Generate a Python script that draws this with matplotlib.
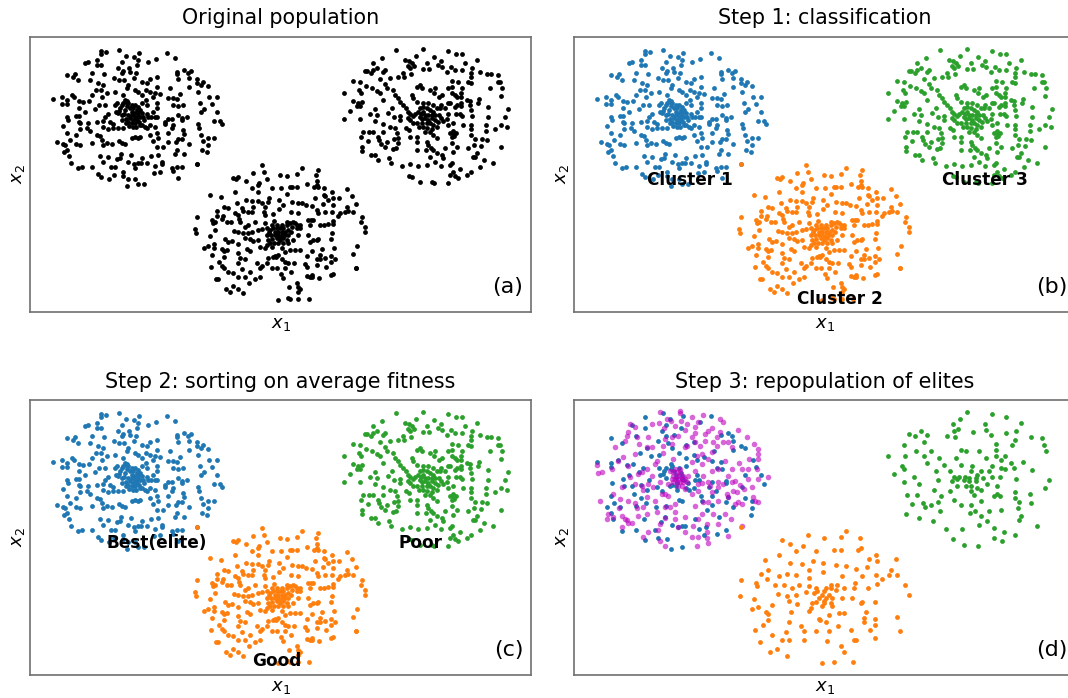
import numpy as np
import matplotlib
matplotlib.use("Agg")
import matplotlib.pyplot as plt

# points (crop pixels, 3x zoom)
blue_read = [(237,31),(183,33),(183,42),(198,36),(382,40),(405,54),(257,47),(281,52),(297,40),(295,60),(347,57),(324,65),(290,75),(288,98),(245,65),(170,60),(183,75),(172,75),(145,66),(136,68),(156,100),(192,102),(235,85),(250,92),(245,100),(268,85),(270,97),(105,102),(82,105),(100,112),(113,120),(150,120),(223,113),(238,120),(252,120),(282,115),(305,127),(322,130),(330,118),(352,112),(410,95),(410,102),(433,90),(453,92),(445,100),(415,117),(448,115),(472,118),(470,128),(490,125),(483,135),(503,138),(448,142),(473,155),(506,170),(530,170),(515,192),(480,188),(530,215),(492,208),(483,217),(523,243),(540,243),(546,253),(475,253),(476,265),(484,286),(522,293),(503,293),(490,302),(503,315),(485,330),(500,335),(470,373),
    (38,178),(65,170),(80,180),(65,192),(80,192),(97,165),(103,172),(118,183),(130,186),(116,203),(135,215),(108,227),(118,227),(80,232),(83,240),(118,245),(120,250),(68,257),(143,250),(142,265),(150,272),(120,267),(80,278),(108,284),(90,300),(50,307),(68,313),(75,316),(107,312),(120,316),(80,330),(73,335),(88,347),(93,368),(113,385),(126,380),(157,380),(175,402),(182,410),(208,417),(223,405),(248,397),(250,408),(265,417),(262,437),(285,417),(295,433),(312,432),
    (148,183),(157,165),(167,150),(175,130),(190,135),(183,150),(200,158),(185,170),(178,195),(195,195),(165,208),(205,222),(195,232),(188,243),(170,245),(210,245),(218,252),(205,268),(190,262),(218,265),(235,265),(248,265),(172,285),(180,288),(187,300),(190,315),(155,310),(200,310),(215,313),(238,303),(247,308),(255,313),(180,347),(205,352),(243,343),(190,367),(212,380),(225,382),(232,358),(240,355),(265,365),(272,345),(283,373),(285,385),(295,370),(305,355),(303,368),(322,368),(332,348),(353,345),(345,377),(366,365),(367,372),(342,400),(360,395),(395,385),(400,393),(412,380),(425,380),(413,415),
    (285,150),(295,155),(305,165),(318,150),(330,155),(345,158),(360,162),(352,140),(390,145),(420,162),(385,175),(400,175),(410,178),(318,180),(340,172),(350,190),(400,195),(430,195),(415,197),(350,205),(340,215),(325,232),(345,232),(375,245),(385,238),(395,238),(375,253),(400,255),(395,265),(415,225),(425,235),(440,232),(425,240),(320,265),(330,255),(345,262),(350,280),(330,285),(385,280),(430,270),(432,283),(415,297),(425,297),(408,307),(448,313),(340,302),(355,295),(352,322),(370,320),(410,330),(405,342),(433,342),(385,305),
    (255,180),(262,183),(250,188),(265,190),(232,190),(240,205),(275,195),(285,195),(295,200),(270,205),(280,205),(290,210),(300,210),(275,215),(285,220),(295,220),(235,220),(245,225),(265,225),(275,225),(285,230),(295,228),(270,235),(280,240),(290,240),(275,250),(285,250),(300,232),(310,230),(225,195),(258,185),(315,262),(300,255),(285,290),(275,295),(295,295),(300,290),(225,157),(250,165),(265,135),(262,145),(305,190),(320,195),
    (245,195),(255,210),(262,198),(252,222),(238,212),(258,238),(265,245),(305,218),(312,240),(322,222),(332,232),(298,245),(305,255),(268,258),(258,250),(288,262),(278,262),(245,240),(228,215),(352,232)]

green_read = [(265,28),(182,30),(340,33),(362,42),(380,42),(142,53),(243,47),(297,50),(427,60),(210,60),(222,62),(232,68),(238,78),(218,78),(225,85),(113,68),(125,85),(115,90),(90,93),(95,94),(107,100),(150,90),(145,97),(165,113),(135,117),(55,122),(75,125),(93,137),(110,145),(127,153),(135,158),(150,133),(155,145),(190,110),(205,100),(207,112),(228,102),(265,88),(283,88),(275,68),(318,62),(310,75),(320,80),(347,82),(335,97),(360,90),(380,90),(390,68),(412,85),(408,100),(408,112),(435,95),(455,102),(468,102),(490,105),(490,127),(495,125),(465,145),(502,145),(498,168),(400,125),(407,128),(352,122),(370,125),(352,140),(340,143),(245,140),(255,135),(260,143),(285,150),(300,145),(298,160),(320,165),(312,172),(350,160),(380,145),(378,158),(360,165),(365,172),(378,172),
    (27,160),(55,183),(68,190),(80,185),(75,198),(65,197),(45,212),(27,238),(75,238),(72,150),(78,160),(120,208),(105,222),(125,224),(120,243),(143,253),(85,275),(103,275),(115,275),(78,290),(100,303),(130,292),(133,300),(145,275),(165,262),(180,265),(185,280),(190,295),(178,297),(190,310),(182,325),(175,328),(137,312),(150,320),(155,305),(80,320),(82,332),(108,345),(120,345),(130,360),(162,355),(168,370),(200,377),(225,373),(248,377),(277,375),(300,365),(317,378),(222,408),(232,412),(254,425),(290,425),(297,430),(340,428),(345,405),(360,408),(370,415),(355,395),(375,388),(395,405),(407,395),(350,368),(345,375),(435,382),(473,370),(448,360),(425,340),(415,350),(420,352),(400,325),(418,315),(438,318),(420,298),(440,298),(456,300),(497,320),(408,268),(408,255),(408,285),(453,255),(453,272),(480,268),(497,255),(517,262),(510,230),(520,207),(458,202),(460,230),(433,178),(430,188),(395,180),(405,182),(405,195),(407,210),(410,228),(380,228),(362,222),(375,222),(340,190),(345,190),(365,195),(378,188),(378,198),(360,200),(340,222),(335,238),
    (145,180),(160,220),(170,203),(175,150),(180,165),(190,175),(195,185),(205,195),(212,205),(220,215),(225,222),(195,228),(178,232),(195,240),(218,235),(225,240),(235,248),(245,250),(212,265),(222,270),(225,292),(245,290),(245,305),(245,330),(230,165),(235,175),(245,185),(265,190),(280,190),(295,195),(305,205),(315,205),(240,222),
    (265,200),(275,205),(285,210),(295,215),(265,215),(270,225),(280,225),(290,225),(300,225),(270,235),(280,240),(290,235),(300,240),(275,250),(285,250),(295,255),(310,245),(325,243),(265,260),(275,265),(270,275),(285,275),(295,285),(305,295),(340,255),(355,250),(385,255),(345,280),(355,278),(362,280),(350,290),(355,272),(358,287),(275,305),(280,315),(288,325),(295,330),(305,340),(320,345),(330,325),(285,352),(325,355),(355,335),(365,320),(350,310),(272,330),
    (255,205),(258,222),(262,238),(255,232),(250,215),(312,225),(318,235),(305,262),(290,268),(262,250),(252,262),(235,228),(318,195),(330,205)]

orange_read = [(36,13),(232,16),(350,25),(398,30),(393,45),(203,40),(237,37),(145,55),(160,50),(152,57),(183,62),(247,58),(222,70),(219,75),(286,45),(306,47),(335,43),(395,62),(397,75),(365,73),(388,80),(400,80),(200,85),(220,97),(260,83),(287,83),(315,82),(320,80),(335,82),(418,85),(440,97),(417,105),(420,107),(485,88),(150,97),(75,105),(108,112),(305,103),(252,113),(250,125),(183,120),(202,122),(218,122),(230,130),(240,140),(157,128),(117,140),(128,143),(283,120),(295,135),(322,125),(340,130),(352,130),(362,135),(380,137),(390,115),(413,133),(430,120),(445,115),(462,115),(500,108),(445,135),(485,140),(512,132),(505,157),(490,152),(480,155),(465,158),(460,168),(420,155),(440,155),(395,150),(400,160),(170,145),(175,152),(188,155),(200,155),(205,140),(150,160),(158,165),(97,152),(95,167),(113,168),(112,178),(80,180),(90,185),(85,190),(125,187),(137,187),(162,178),(165,187),(237,155),(240,165),(265,162),(282,148),(317,155),(340,160),(368,180),(378,180),(385,180),(375,195),(405,195),(418,195),(430,193),(445,182),(445,192),(36,172),(30,207),(33,218),(90,210),(75,227),(120,236),(130,247),(140,243),(148,212),(160,215),(175,218),(190,218),(200,215),(220,210),(230,208),(245,205),(190,195),(180,200),(210,185),(268,183),(240,190),(532,172),(528,187),(540,200),(541,215),(440,218),(437,238),(515,258),(503,282),(512,323),(512,325),
    (160,252),(88,252),(88,265),(70,258),(58,265),(110,268),(125,270),(118,272),(82,285),(118,292),(160,280),(185,268),(195,272),(102,305),(112,318),(78,320),(117,325),(130,335),(145,338),(160,350),(165,295),(180,297),(160,310),(172,327),(195,335),(215,310),(232,318),(225,325),(245,310),(260,325),(275,325),(92,358),(100,357),(122,387),(135,395),(145,377),(160,388),(175,400),(192,370),(180,350),(210,357),(225,350),(288,342),(293,355),(318,335),(300,325),(310,308),(328,308),(265,290),(272,290),(250,295),(290,298),(300,305),(270,287),(312,380),(337,368),(340,380),(345,388),(340,397),(278,420),(310,413),(316,417),(340,418),(372,418),(360,312),(365,320),(365,347),(375,350),(380,345),(382,352),(402,353),(438,345),(443,342),(422,322),(395,315),(405,298),(395,297),(405,285),(420,293),(437,287),(450,296),(437,305),(448,265),(412,267),(367,287),(345,270),(380,272),
    (265,205),(275,205),(285,205),(295,205),(305,195),(315,190),(325,185),(330,190),(305,185),(270,215),(280,215),(290,215),(300,215),(310,210),(270,225),(280,225),(290,225),(300,225),(310,225),(275,235),(285,235),(295,235),(285,240),(245,225),(250,240),(255,250),(245,255),(260,260),(240,265),(225,262),(205,242),(220,240),(180,235),(195,237),(310,250),(325,240),(340,225),(345,205),(370,225),(385,240),(395,240),(375,245),(400,238),(290,265),(300,275),(315,270),(330,270),(280,285),(345,195),(335,205),
    (255,210),(258,225),(262,238),(268,248),(280,250),(295,248),(305,240),(318,215),(322,200),(335,195),(262,195),(275,195),(290,195),(252,215)]

magenta_read = [(225,25),(285,22),(286,28),(135,60),(128,85),(125,97),(120,110),(155,100),(163,120),(188,100),(185,128),(245,45),(258,50),(222,58),(288,50),(320,40),(355,33),(340,55),(305,60),(300,78),(238,72),(240,105),(235,125),(262,100),(330,88),(360,90),(380,72),(368,80),(405,45),(415,55),(405,85),(395,98),(415,113),(458,78),(487,100),(508,120),(518,135),(518,150),(520,165),(492,165),(463,178),(470,195),(490,195),(515,195),(548,220),(520,225),(500,248),(478,255),(465,243),(450,232),(35,183),(40,207),(50,203),(80,195),(115,160),(100,170),(130,185),(135,218),(160,210),(170,205),(185,195),(215,170),(210,180),(235,148),(265,165),(300,130),(305,125),(330,115),(360,110),(385,115),(395,125),(430,115),(440,130),(350,150),(350,180),(370,165),(335,155),(320,175),(45,290),(70,330),(65,345),(85,340),(105,285),(103,313),(110,335),(120,345),(125,348),(130,358),(140,358),(110,368),(150,298),(155,312),(185,280),(160,335),(185,330),(225,360),(240,343),(220,378),(190,385),(175,398),(225,410),(240,425),(270,345),(280,370),(300,385),(320,400),(335,425),(370,418),(365,403),(340,398),(430,396),(365,385),(365,360),(340,345),(325,365),(438,345),(472,365),(420,330),(400,290),(370,295),(355,295),(330,305),(380,265),(400,250),(445,260),(455,265),(460,293),(470,300),(505,280),(510,290),(520,295),(430,280),(425,270),(250,275),(240,270),(230,270),(205,248),(170,245),(175,258),(190,240),(225,235),(340,260),(340,240),(350,238),(370,235),(375,245),(400,235),(415,240),(440,235),(270,325),(255,310),(215,325),(270,300),(320,270),(300,255),(355,215),(400,195),
    (265,205),(275,205),(285,205),(265,215),(275,215),(285,215),(295,215),(260,225),(270,225),(280,225),(290,225),(300,225),(265,235),(275,235),(285,235),(295,235),(280,245),(290,245),(255,200),(270,195),(285,195),(305,235),(310,215),(250,240),
    (150,150),(200,130),(260,120),(280,95),(320,100),(345,125),(380,145),(420,170),(440,195),(430,215),(380,200),(330,200),(200,215),(150,240),(110,250),(85,270),(130,290),(175,310),(210,290),(240,310),(300,340),(350,330),(385,330),(400,360),(450,300),(490,225),(90,130),(150,70),(200,60),(270,65),(330,70)]

titles = ["Original population", "Step 1: classification",
          "Step 2: sorting on average fitness", "Step 3: repopulation of elites"]
letters = ["(a)", "(b)", "(c)", "(d)"]
names_b = ["Cluster 1", "Cluster 2", "Cluster 3"]
names_c = ["Best(elite)", "Good", "Poor"]

# back to pixels of panel (a), which is the unit of x1 and x2 here
blue = np.array(blue_read) / 3 + [40, 40]
green = np.array(green_read) / 3 + [335, 40]
orange = np.array(orange_read) / 3 + [185, 160]
magenta = np.array(magenta_read) / 3 + [41, 41]

W, H = 1068, 698
fig = plt.figure(figsize=(W / 100, H / 100), dpi=100)
boxes = [(30, 37), (574, 37), (30, 400), (574, 400)]
axs = []
for i, (left, top) in enumerate(boxes):
    ax = fig.add_axes([left / W, 1 - (top + 275) / H, 501 / W, 275 / H])
    ax.set_xlim(30, 531)
    ax.set_ylim(312, 37)
    ax.set_xticks([])
    ax.set_yticks([])
    ax.set_xlabel("$x_1$", fontsize=13, labelpad=2)
    ax.set_ylabel("$x_2$", fontsize=13, labelpad=2)
    ax.set_title(titles[i], fontsize=14.9, pad=9)
    for s in ax.spines.values():
        s.set_color("#707070")
        s.set_linewidth(1.2)
    ax.text(0.985, 0.055, letters[i], transform=ax.transAxes, ha="right", va="bottom", fontsize=16)
    axs.append(ax)


def dots(ax, pts, color, size=12, **kw):
    ax.scatter(pts[:, 0], pts[:, 1], s=size, c=color, linewidths=0, **kw)


dots(axs[0], np.vstack([blue, green, orange]), "black")

for ax in axs[1:3]:
    dots(ax, blue, "tab:blue")
    dots(ax, orange, "tab:orange")
    dots(ax, green, "tab:green")

dots(axs[3], blue[::2], "tab:blue")
dots(axs[3], magenta, "m", size=16, alpha=0.6)
dots(axs[3], orange[::2], "tab:orange")
dots(axs[3], green[::2], "tab:green")

label_pos = [(146, 180), (296, 299), (441, 180)]
label_pos_c = [(157, 180), (277, 298), (421, 180)]
for name, (x, y) in zip(names_b, label_pos):
    axs[1].text(x, y, name, ha="center", va="center", fontsize=12.2, fontweight="bold")
for name, (x, y) in zip(names_c, label_pos_c):
    axs[2].text(x, y, name, ha="center", va="center", fontsize=12.2, fontweight="bold")

fig.savefig("out.png", dpi=100)
